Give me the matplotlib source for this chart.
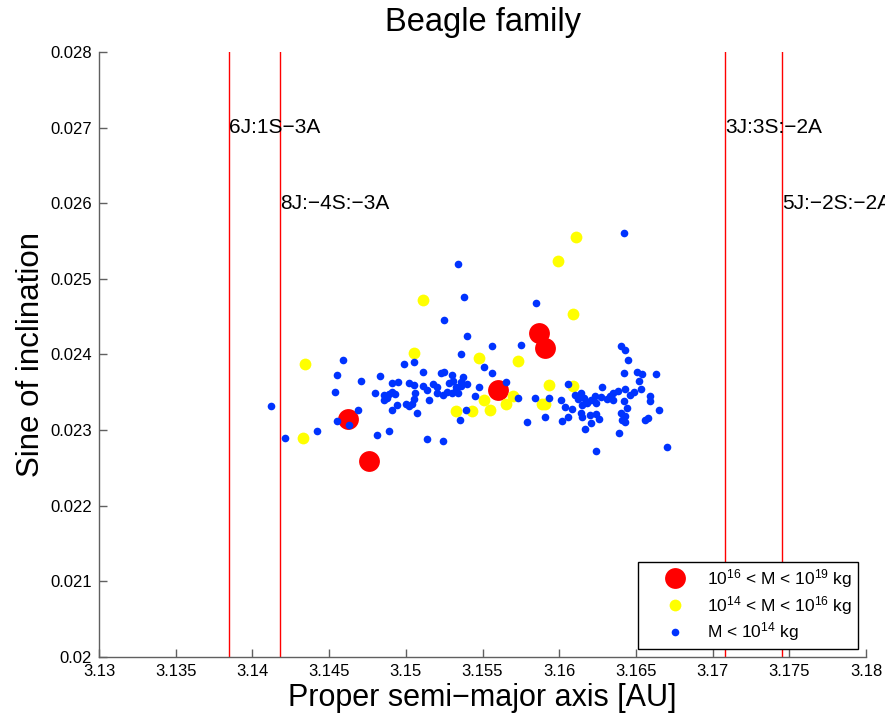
import matplotlib
matplotlib.use("Agg")
import matplotlib.pyplot as plt
from matplotlib.ticker import FuncFormatter

plt.rcParams["font.family"] = ["Liberation Sans", "DejaVu Sans"]
plt.rcParams["mathtext.fontset"] = "custom"
plt.rcParams["mathtext.rm"] = "Liberation Sans"

# resonances (proper a in AU) and their labels
res_a = [3.1385, 3.1418, 3.1708, 3.1745]
res_label = ["6J:1S\u22123A", "8J:\u22124S:\u22123A", "3J:3S:\u22122A", "5J:\u22122S:\u22122A"]
res_label_y = [0.0270, 0.0260, 0.0270, 0.0260]

# large bodies 1e16 < M < 1e19 kg
big_a = [3.1462, 3.1476, 3.1560, 3.1587, 3.1591]
big_sini = [0.02315, 0.02259, 0.02353, 0.02429, 0.02409]

# medium bodies 1e14 < M < 1e16 kg
mid_a = [3.1434, 3.1433, 3.1511, 3.1505, 3.1548, 3.1573, 3.1611, 3.1599, 3.1609,
         3.1593, 3.1609, 3.1570, 3.1565, 3.1551, 3.1555, 3.1589, 3.1591, 3.1533, 3.1543]
mid_sini = [0.02388, 0.02289, 0.02472, 0.02402, 0.02396, 0.02392, 0.02556, 0.02524, 0.02453,
            0.02360, 0.02358, 0.02345, 0.02335, 0.02340, 0.02327, 0.02335, 0.02335, 0.02325, 0.02325]

# small bodies M < 1e14 kg
small_a = [3.1412, 3.1421, 3.1442, 3.1459, 3.1455, 3.1454, 3.1469, 3.1455, 3.1463, 3.1471,
           3.1483, 3.1480, 3.1481, 3.1489, 3.1491, 3.1494, 3.1500, 3.1491, 3.1495, 3.1502,
           3.1505, 3.1486, 3.1489, 3.1491, 3.1493, 3.1486, 3.1488, 3.1499, 3.1505, 3.1511,
           3.1523, 3.1525, 3.1530, 3.1537, 3.1536, 3.1551, 3.1556, 3.1511, 3.1518, 3.1520,
           3.1528, 3.1531, 3.1533, 3.1536, 3.1540, 3.1548, 3.1565, 3.1506, 3.1505, 3.1504,
           3.1514, 3.1515, 3.1520, 3.1524, 3.1527, 3.1530, 3.1533, 3.1534, 3.1545, 3.1502,
           3.1507, 3.1539, 3.1535, 3.1514, 3.1524, 3.1525, 3.1538, 3.1540, 3.1536, 3.1534,
           3.1642, 3.1585, 3.1556, 3.1575, 3.1640, 3.1643, 3.1645, 3.1642, 3.1651, 3.1654,
           3.1663, 3.1652, 3.1606, 3.1628, 3.1643, 3.1653, 3.1649, 3.1646, 3.1573, 3.1584,
           3.1593, 3.1579, 3.1591, 3.1601, 3.1604, 3.1608, 3.1602, 3.1606, 3.1610, 3.1614,
           3.1612, 3.1616, 3.1615, 3.1618, 3.1614, 3.1615, 3.1621, 3.1623, 3.1627, 3.1624,
           3.1620, 3.1624, 3.1626, 3.1621, 3.1617, 3.1633, 3.1635, 3.1638, 3.1631, 3.1635,
           3.1642, 3.1644, 3.1640, 3.1643, 3.1641, 3.1643, 3.1639, 3.1659, 3.1659, 3.1665,
           3.1656, 3.1658, 3.1624, 3.1670]
small_sini = [0.02332, 0.02289, 0.02299, 0.02393, 0.02373, 0.02351, 0.02326, 0.02312, 0.02307, 0.02365,
              0.02371, 0.02349, 0.02294, 0.02299, 0.02326, 0.02333, 0.02335, 0.02362, 0.02364, 0.02362,
              0.02360, 0.02346, 0.02348, 0.02351, 0.02348, 0.02340, 0.02343, 0.02388, 0.02390, 0.02377,
              0.02375, 0.02377, 0.02373, 0.02370, 0.02364, 0.02383, 0.02376, 0.02358, 0.02361, 0.02357,
              0.02362, 0.02365, 0.02357, 0.02358, 0.02361, 0.02357, 0.02364, 0.02349, 0.02341, 0.02335,
              0.02353, 0.02340, 0.02349, 0.02346, 0.02351, 0.02349, 0.02353, 0.02349, 0.02345, 0.02332,
              0.02322, 0.02327, 0.02314, 0.02288, 0.02286, 0.02446, 0.02476, 0.02425, 0.02401, 0.02520,
              0.02561, 0.02468, 0.02411, 0.02413, 0.02411, 0.02406, 0.02393, 0.02376, 0.02377, 0.02374,
              0.02374, 0.02365, 0.02361, 0.02357, 0.02355, 0.02354, 0.02351, 0.02346, 0.02342, 0.02342,
              0.02342, 0.02311, 0.02317, 0.02340, 0.02331, 0.02328, 0.02312, 0.02317, 0.02346, 0.02349,
              0.02341, 0.02342, 0.02333, 0.02336, 0.02322, 0.02317, 0.02340, 0.02345, 0.02344, 0.02336,
              0.02320, 0.02321, 0.02315, 0.02309, 0.02302, 0.02345, 0.02349, 0.02352, 0.02341, 0.02340,
              0.02338, 0.02329, 0.02322, 0.02318, 0.02313, 0.02311, 0.02296, 0.02345, 0.02339, 0.02326,
              0.02313, 0.02316, 0.02273, 0.02278]

x_ticks = [3.13, 3.135, 3.14, 3.145, 3.15, 3.155, 3.16, 3.165, 3.17, 3.175, 3.18]
y_ticks = [0.020, 0.021, 0.022, 0.023, 0.024, 0.025, 0.026, 0.027, 0.028]

fig = plt.figure(figsize=(8.85, 7.17), dpi=100)
ax = fig.add_axes([0.1119, 0.0837, 0.8667, 0.8438])

for a in res_a:
    ax.axvline(a, color="#ff0000", lw=1.0, zorder=1)
for a, lab, y in zip(res_a, res_label, res_label_y):
    # labels run off the right edge of the figure, as in the original
    ax.text(a, y, lab, fontsize=15, ha="left", va="center", clip_on=False)

ax.plot(big_a, big_sini, "o", color="#ff0000", ms=15, mec="none", ls="none",
        label=r"$\mathregular{10^{16}}$ < M < $\mathregular{10^{19}}$ kg", zorder=2)
ax.plot(mid_a, mid_sini, "o", color="#ffff00", ms=8.5, mec="none", ls="none",
        label=r"$\mathregular{10^{14}}$ < M < $\mathregular{10^{16}}$ kg", zorder=3)
ax.plot(small_a, small_sini, "o", color="#0033ff", ms=5.5, mec="none", ls="none",
        label=r"M < $\mathregular{10^{14}}$ kg", zorder=4)

ax.set_xlim(3.13, 3.18)
ax.set_ylim(0.020, 0.028)
ax.set_xticks(x_ticks)
ax.set_yticks(y_ticks)
ax.xaxis.set_major_formatter(FuncFormatter(lambda v, p: f"{v:g}"))
ax.yaxis.set_major_formatter(FuncFormatter(lambda v, p: f"{v:g}"))
ax.tick_params(direction="in", length=6, width=1, color="#606060", labelsize=12, pad=5)

for side in ["top", "right"]:
    ax.spines[side].set_visible(False)
for side in ["left", "bottom"]:
    ax.spines[side].set_color("#606060")
    ax.spines[side].set_linewidth(1.0)

ax.set_title("Beagle family", fontsize=23.5, pad=15)
ax.set_xlabel("Proper semi\u2212major axis [AU]", fontsize=22, labelpad=3)
ax.set_ylabel("Sine of inclination", fontsize=22.5, labelpad=3)

leg = ax.legend(loc="lower right", bbox_to_anchor=(0.989, 0.014), borderaxespad=0,
                fancybox=False, framealpha=1, edgecolor="black", fontsize=12.5,
                handletextpad=0.0, borderpad=0.3, labelspacing=0.22, handlelength=3.7)
leg.get_frame().set_linewidth(1.0)

fig.savefig("out.png", dpi=100)
